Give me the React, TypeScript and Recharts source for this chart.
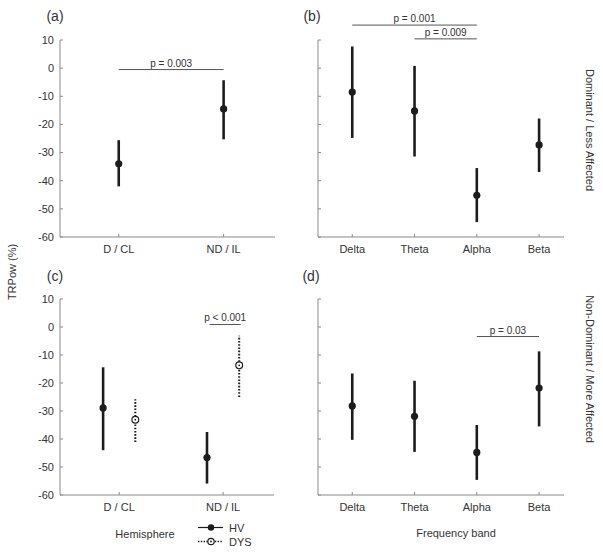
import { ScatterChart, Scatter, XAxis, YAxis, ErrorBar, ReferenceLine } from 'recharts';

const hemiCats = ['D / CL', 'ND / IL'];
const bandCats = ['Delta', 'Theta', 'Alpha', 'Beta'];
const yTicks = [-60, -50, -40, -30, -20, -10, 0, 10];

// (a) dominant / less affected, by hemisphere
const aMean = [-34, -14.5];
const aLow = [-42, -25.3];
const aHigh = [-25.6, -4.3];

// (b) dominant / less affected, by band
const bMean = [-8.5, -15.2, -45.2, -27.3];
const bLow = [-24.8, -31.4, -54.7, -36.9];
const bHigh = [7.7, 0.8, -35.5, -17.9];

// (c) non-dominant / more affected, HV vs DYS
const cHvMean = [-28.9, -46.6];
const cHvLow = [-44, -55.9];
const cHvHigh = [-14.4, -37.5];
const cDysMean = [-33.1, -13.7];
const cDysLow = [-41.1, -25];
const cDysHigh = [-25.8, -3.1];

// (d) non-dominant / more affected, by band
const dMean = [-28.2, -31.9, -44.8, -21.8];
const dLow = [-40.3, -44.6, -54.6, -35.5];
const dHigh = [-16.6, -19.2, -35, -8.7];

const sigA = [{ from: 1, to: 2, y: -0.5, label: 'p = 0.003' }];
const sigB = [
  { from: 1, to: 3, y: 15.3, label: 'p = 0.001' },
  { from: 2, to: 3, y: 10.4, label: 'p = 0.009' },
];
const sigC = [{ from: 1.87, to: 2.17, y: 0.9, label: 'p < 0.001' }];
const sigD = [{ from: 3, to: 4, y: -3.4, label: 'p = 0.03' }];

const GROUP_SHIFT = 0.155;

const FONT = '"Liberation Sans", Arial, sans-serif';
const INK = '#1c1c1c';
const AXIS = '#8a8a8a';
const TXT = '#333';
const TM = 6;

const toPoints = (mean: number[], low: number[], high: number[], shift = 0) =>
  mean.map((m, i) => ({ x: i + 1 + shift, y: m, err: [m - low[i], high[i] - m] }));

const FilledDot = (p: any) => <circle cx={p.cx} cy={p.cy} r={3.6} fill={INK} />;
const OpenDot = (p: any) => (
  <g>
    <circle cx={p.cx} cy={p.cy} r={3.4} fill="#fff" stroke={INK} strokeWidth={1.2} />
    <circle cx={p.cx} cy={p.cy} r={0.9} fill={INK} />
  </g>
);

const YTick = ({ x, y, payload, showLabel }: any) => (
  <g>
    <line x1={x + TM} x2={x + TM + 3} y1={y} y2={y} stroke={AXIS} />
    {showLabel && (
      <text x={x} y={y} dy="0.35em" textAnchor="end" fontSize={11} fill={TXT} fontFamily={FONT}>
        {payload.value}
      </text>
    )}
  </g>
);

const XTick = ({ x, y, payload, names }: any) => (
  <g>
    <line x1={x} x2={x} y1={y - 8} y2={y - 11} stroke={AXIS} />
    <text x={x} y={y} dy="0.71em" textAnchor="middle" fontSize={11} fill={TXT} fontFamily={FONT}>
      {names[Math.round(payload.value) - 1]}
    </text>
  </g>
);

interface Series {
  points: { x: number; y: number; err: number[] }[];
  shape: (p: any) => any;
  dashed?: boolean;
}

interface PanelProps {
  left: number;
  top: number;
  width: number;
  height: number;
  margin: { top: number; right: number; left: number; bottom: number };
  yAxisWidth: number;
  xAxisHeight: number;
  xDomain: [number, number];
  cats: string[];
  showYLabels: boolean;
  series: Series[];
  sig: { from: number; to: number; y: number; label: string }[];
}

function Panel(props: PanelProps) {
  const { left, top, width, height, margin, yAxisWidth, xAxisHeight, xDomain, cats, showYLabels, series, sig } = props;
  return (
    <div style={{ position: 'absolute', left, top, width, height }}>
      <ScatterChart width={width} height={height} margin={margin}>
        <XAxis
          type="number"
          dataKey="x"
          domain={xDomain}
          ticks={cats.map((_, i) => i + 1)}
          allowDataOverflow
          height={xAxisHeight}
          tickSize={0}
          tickMargin={8}
          tickLine={false}
          axisLine={{ stroke: AXIS }}
          tick={(p: any) => <XTick {...p} names={cats} />}
        />
        <YAxis
          type="number"
          dataKey="y"
          domain={[-60, 10]}
          ticks={yTicks}
          allowDataOverflow
          width={yAxisWidth}
          tickSize={0}
          tickMargin={TM}
          tickLine={false}
          axisLine={{ stroke: AXIS }}
          tick={(p: any) => <YTick {...p} showLabel={showYLabels} />}
        />
        {sig.map((s, i) => (
          <ReferenceLine
            key={i}
            segment={[{ x: s.from, y: s.y }, { x: s.to, y: s.y }]}
            ifOverflow="visible"
            stroke="#555"
            strokeWidth={1}
            label={{ value: s.label, position: 'top', offset: 3, fontSize: 10, fill: TXT, fontFamily: FONT }}
          />
        ))}
        {series.map((s, i) => (
          <Scatter key={i} data={s.points} shape={s.shape} isAnimationActive={false}>
            <ErrorBar
              dataKey="err"
              direction="y"
              width={0}
              stroke={INK}
              strokeWidth={s.dashed ? 2 : 2.6}
              strokeDasharray={s.dashed ? '1.6 1.6' : undefined}
            />
          </Scatter>
        ))}
      </ScatterChart>
    </div>
  );
}

export default function App() {
  const txt = { fontFamily: FONT, fill: TXT };
  return (
    <div style={{ position: 'absolute', left: 0, top: 0, width: 603, height: 553, background: '#fff', fontFamily: FONT }}>
      <Panel
        left={0}
        top={0}
        width={300}
        height={280}
        margin={{ top: 40, right: 25, left: 0, bottom: 0 }}
        yAxisWidth={60}
        xAxisHeight={43}
        xDomain={[0.44, 2.49]}
        cats={hemiCats}
        showYLabels
        series={[{ points: toPoints(aMean, aLow, aHigh), shape: FilledDot }]}
        sig={sigA}
      />
      <Panel
        left={300}
        top={0}
        width={303}
        height={280}
        margin={{ top: 40, right: 39, left: 0, bottom: 0 }}
        yAxisWidth={18}
        xAxisHeight={43}
        xDomain={[0.45, 4.4]}
        cats={bandCats}
        showYLabels={false}
        series={[{ points: toPoints(bMean, bLow, bHigh), shape: FilledDot }]}
        sig={sigB}
      />
      <Panel
        left={0}
        top={280}
        width={300}
        height={273}
        margin={{ top: 19, right: 26, left: 0, bottom: 0 }}
        yAxisWidth={60}
        xAxisHeight={58}
        xDomain={[0.43, 2.49]}
        cats={hemiCats}
        showYLabels
        series={[
          { points: toPoints(cHvMean, cHvLow, cHvHigh, -GROUP_SHIFT), shape: FilledDot },
          { points: toPoints(cDysMean, cDysLow, cDysHigh, GROUP_SHIFT), shape: OpenDot, dashed: true },
        ]}
        sig={sigC}
      />
      <Panel
        left={300}
        top={280}
        width={303}
        height={273}
        margin={{ top: 19, right: 39, left: 0, bottom: 0 }}
        yAxisWidth={18}
        xAxisHeight={58}
        xDomain={[0.45, 4.4]}
        cats={bandCats}
        showYLabels={false}
        series={[{ points: toPoints(dMean, dLow, dHigh), shape: FilledDot }]}
        sig={sigD}
      />
      <svg width={603} height={553} style={{ position: 'absolute', left: 0, top: 0, pointerEvents: 'none' }}>
        <text x={55} y={21} textAnchor="middle" fontSize={14} {...txt}>(a)</text>
        <text x={312} y={21} textAnchor="middle" fontSize={14} {...txt}>(b)</text>
        <text x={55} y={281} textAnchor="middle" fontSize={14} {...txt}>(c)</text>
        <text x={311} y={281} textAnchor="middle" fontSize={14} {...txt}>(d)</text>
        <text x={0} y={0} transform="translate(12,272) rotate(-90)" textAnchor="middle" dy="0.35em" fontSize={11} {...txt}>
          TRPow (%)
        </text>
        <text x={0} y={0} transform="translate(590,130) rotate(90)" textAnchor="middle" dy="0.35em" fontSize={11} {...txt}>
          Dominant / Less Affected
        </text>
        <text x={0} y={0} transform="translate(590,369) rotate(90)" textAnchor="middle" dy="0.35em" fontSize={11} {...txt}>
          Non-Dominant / More Affected
        </text>
        <text x={145} y={538} textAnchor="middle" fontSize={11} {...txt}>Hemisphere</text>
        <text x={456} y={537} textAnchor="middle" fontSize={11} {...txt}>Frequency band</text>
        <line x1={198} x2={223} y1={527.5} y2={527.5} stroke={INK} strokeWidth={1.2} />
        <circle cx={211} cy={527.5} r={3.2} fill={INK} />
        <text x={229} y={531.5} fontSize={11} {...txt}>HV</text>
        <line x1={198} x2={223} y1={541.5} y2={541.5} stroke={INK} strokeWidth={1.4} strokeDasharray="1.4 1.4" />
        <circle cx={211} cy={541.5} r={3.2} fill="#fff" stroke={INK} strokeWidth={1.2} />
        <circle cx={211} cy={541.5} r={0.9} fill={INK} />
        <text x={229} y={545.5} fontSize={11} {...txt}>DYS</text>
      </svg>
    </div>
  );
}
